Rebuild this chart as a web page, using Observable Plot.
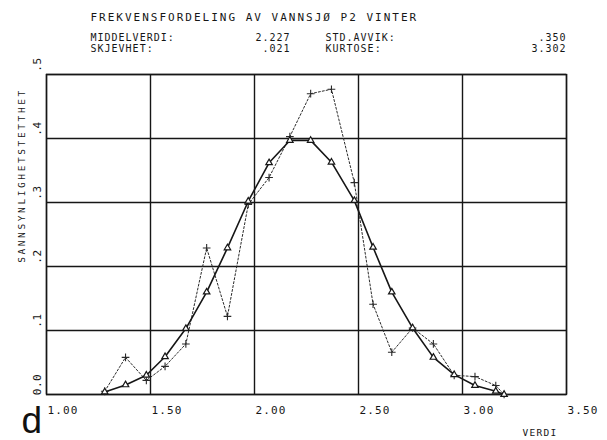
<!DOCTYPE html>
<html>
<head>
<meta charset="utf-8">
<script src="https://cdn.jsdelivr.net/npm/d3@7"></script>
<script src="https://cdn.jsdelivr.net/npm/@observablehq/plot@0.6"></script>
<style>
  html, body { margin: 0; padding: 0; background: #fff; }
  #chart svg { display: block; }
</style>
</head>
<body>
<div id="chart"></div>
<script>
// ---- data ----
const binCenters = [1.28, 1.38, 1.48, 1.57, 1.67, 1.77, 1.87, 1.97, 2.07, 2.17, 2.27, 2.37, 2.48, 2.57, 2.66, 2.76, 2.86, 2.96, 3.06, 3.16, 3.20];
const fittedDensity = [0.004, 0.015, 0.030, 0.059, 0.103, 0.160, 0.229, 0.302, 0.362, 0.397, 0.397, 0.363, 0.303, 0.230, 0.160, 0.104, 0.058, 0.031, 0.014, 0.005, 0.0];
const observedDensity = [0.005, 0.058, 0.022, 0.044, 0.079, 0.229, 0.122, 0.297, 0.339, 0.403, 0.470, 0.477, 0.331, 0.141, 0.066, 0.104, 0.079, 0.030, 0.028, 0.014, 0.0];

const xTicks = [1.0, 1.5, 2.0, 2.5, 3.0, 3.5];
const xTickLabels = ["1.00", "1.50", "2.00", "2.50", "3.00", "3.50"];
const yTicks = [0, 0.1, 0.2, 0.3, 0.4, 0.5];
const yTickLabels = ["0.0", ".1", ".2", ".3", ".4", ".5"];

const titleText = "FREKVENSFORDELING AV VANNSJØ P2 VINTER";
const statLabelsLeft = ["MIDDELVERDI:", "SKJEVHET:"];
const statValuesLeft = ["2.227", ".021"];
const statLabelsRight = ["STD.AVVIK:", "KURTOSE:"];
const statValuesRight = [".350", "3.302"];
const xLabel = "VERDI";
const yLabel = "SANNSYNLIGHETSTETTHET";
const panelLetter = "d";

// ---- build tables ----
const fitted = binCenters.map((x, i) => ({x, y: fittedDensity[i]}));
const observed = binCenters.map((x, i) => ({x, y: observedDensity[i]}));
const xTickData = xTicks.map((v, i) => ({v, label: xTickLabels[i]}));
const yTickData = yTicks.map((v, i) => ({v, label: yTickLabels[i]}));

const ink = "#161616";
const mono = "DejaVu Sans Mono";

// layout constants (pixels)
const M = {left: 46, right: 41, top: 74, bottom: 46};
const statRowsY = [37, 48];
const statCols = {label1: 90, value1: 290, label2: 325, value2: 566};

const statMarks = [];
statRowsY.forEach((rowY, r) => {
  const dy = rowY - M.top;
  statMarks.push(
    Plot.text([statLabelsLeft[r]], {frameAnchor: "top-left", textAnchor: "start", lineAnchor: "middle",
      dx: statCols.label1 - M.left, dy, fontSize: 10, fill: ink}),
    Plot.text([statValuesLeft[r]], {frameAnchor: "top-left", textAnchor: "end", lineAnchor: "middle",
      dx: statCols.value1 - M.left, dy, fontSize: 10, fill: ink}),
    Plot.text([statLabelsRight[r]], {frameAnchor: "top-left", textAnchor: "start", lineAnchor: "middle",
      dx: statCols.label2 - M.left, dy, fontSize: 10, fill: ink}),
    Plot.text([statValuesRight[r]], {frameAnchor: "top-left", textAnchor: "end", lineAnchor: "middle",
      dx: statCols.value2 - M.left, dy, fontSize: 10, fill: ink})
  );
});

const chart = Plot.plot({
  width: 607,
  height: 440,
  marginLeft: M.left,
  marginRight: M.right,
  marginTop: M.top,
  marginBottom: M.bottom,
  style: {background: "#fff", fontFamily: mono, color: ink},
  x: {domain: [1.0, 3.5], axis: null},
  y: {domain: [0, 0.5], axis: null},
  marks: [
    Plot.ruleX(xTicks, {stroke: ink, strokeWidth: 1.4}),
    Plot.ruleY(yTicks, {stroke: ink, strokeWidth: 1.4}),
    Plot.frame({stroke: ink, strokeWidth: 1.4}),
    // observed frequencies: dotted line with + markers
    Plot.line(observed, {x: "x", y: "y", stroke: "#2a2a2a", strokeWidth: 1, strokeDasharray: "2,2"}),
    Plot.dot(observed, {x: "x", y: "y", symbol: "plus", r: 2.6, stroke: "#2a2a2a", strokeWidth: 1.1}),
    // fitted normal density: solid line with triangles
    Plot.line(fitted, {x: "x", y: "y", stroke: ink, strokeWidth: 1.6}),
    Plot.dot(fitted, {x: "x", y: "y", symbol: "triangle", r: 2.4, stroke: ink, strokeWidth: 1.2, fill: "#fff"}),
    // x tick labels
    Plot.text(xTickData, {x: "v", text: "label", frameAnchor: "bottom", textAnchor: "start", lineAnchor: "middle",
      dx: 1, dy: 16, fontSize: 11, fill: ink}),
    // y tick labels (rotated)
    Plot.text(yTickData, {y: "v", text: "label", frameAnchor: "left", textAnchor: "middle", lineAnchor: "middle",
      rotate: -90, dx: -9, dy: -10, fontSize: 11, fill: ink}),
    // x axis label
    Plot.text([xLabel], {frameAnchor: "bottom-left", textAnchor: "start", lineAnchor: "middle",
      dx: 522 - M.left, dy: 432.5 - 394, fontSize: 9.5, fill: ink}),
    // y axis label
    Plot.text([yLabel], {frameAnchor: "top-left", textAnchor: "middle", lineAnchor: "middle", rotate: -90,
      dx: 21 - M.left, dy: 175 - M.top, fontSize: 9.5, fill: ink}),
    // title
    Plot.text([titleText], {frameAnchor: "top-left", textAnchor: "start", lineAnchor: "middle",
      dx: 90 - M.left, dy: 17 - M.top, fontSize: 11, fill: ink}),
    ...statMarks,
    // panel letter
    Plot.text([panelLetter], {frameAnchor: "bottom-left", textAnchor: "start", lineAnchor: "middle",
      dx: 21 - M.left, dy: 421 - 394, fontSize: 37, fontFamily: "Liberation Sans", fill: "#111"})
  ]
});

document.getElementById("chart").appendChild(chart);

// plotter-style letter spacing, applied by text content
const svg = d3.select(chart);
function spacing(strings, px) {
  const set = new Set(strings);
  svg.selectAll("text").filter(function () { return set.has(this.textContent); })
    .style("letter-spacing", px + "px");
}
spacing([titleText], 2.0);
spacing(xTickLabels, 1.1);
spacing(yTickLabels, 0.6);
spacing([xLabel], 1.3);
spacing([yLabel], 2.6);
spacing([...statLabelsLeft, ...statLabelsRight, ...statValuesLeft, ...statValuesRight], 1.0);
</script>
</body>
</html>
